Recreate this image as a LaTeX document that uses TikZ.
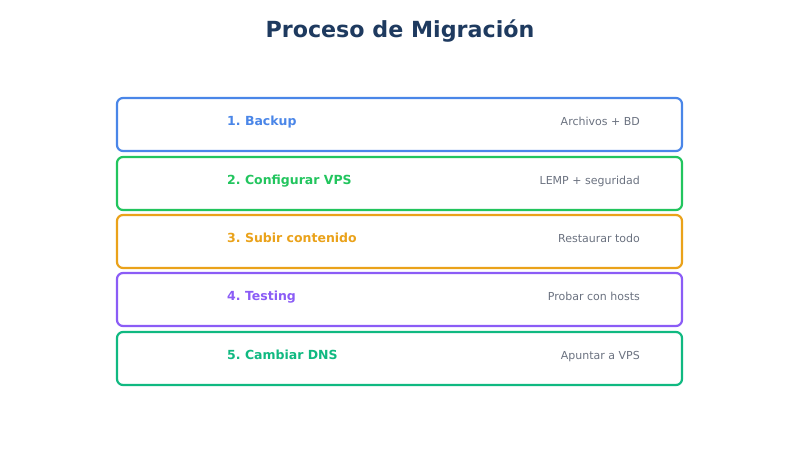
\documentclass[tikz,border=0pt]{standalone}
\usepackage{fontspec}
\setmainfont{DejaVu Sans}
\frenchspacing
\definecolor{cblue}{HTML}{4A86E8}
\definecolor{cgreen}{HTML}{22C55E}
\definecolor{corange}{HTML}{EAA21A}
\definecolor{cpurple}{HTML}{8B5CF6}
\definecolor{cteal}{HTML}{10B981}
\definecolor{ctitle}{HTML}{1E3A5F}
\definecolor{cgray}{HTML}{6B7280}
\begin{document}
\begin{tikzpicture}[x=1pt,y=-1pt,
  stepbox/.style={draw=#1, line width=2.2pt, rounded corners=6pt, fill=white},
  steplabel/.style={text=#1, font=\fontsize{12.5}{15}\selectfont\bfseries, anchor=base west, inner sep=0pt},
  stepnote/.style={text=cgray, font=\fontsize{11}{14}\selectfont, anchor=base east, inner sep=0pt}]
\useasboundingbox (0,0) rectangle (800,450);
\node[text=ctitle, font=\fontsize{22.2}{26}\selectfont\bfseries, anchor=base, inner sep=0pt] (title) at (400,37) {Proceso de Migración};
\foreach \i/\y/\c/\l/\n in {1/98/cblue/1. Backup/Archivos + BD,
  2/157/cgreen/2. Configurar VPS/LEMP + seguridad,
  3/215/corange/3. Subir contenido/Restaurar todo,
  4/273/cpurple/4. Testing/Probar con hosts,
  5/332/cteal/5. Cambiar DNS/Apuntar a VPS}{
  \draw[stepbox=\c] (117,\y) rectangle (682,\y+53);
  \node[steplabel=\c] (l\i) at (227,\y+27.7) {\l};
  \node[stepnote] (n\i) at (640,\y+27.7) {\n};
}
\end{tikzpicture}
\end{document}
